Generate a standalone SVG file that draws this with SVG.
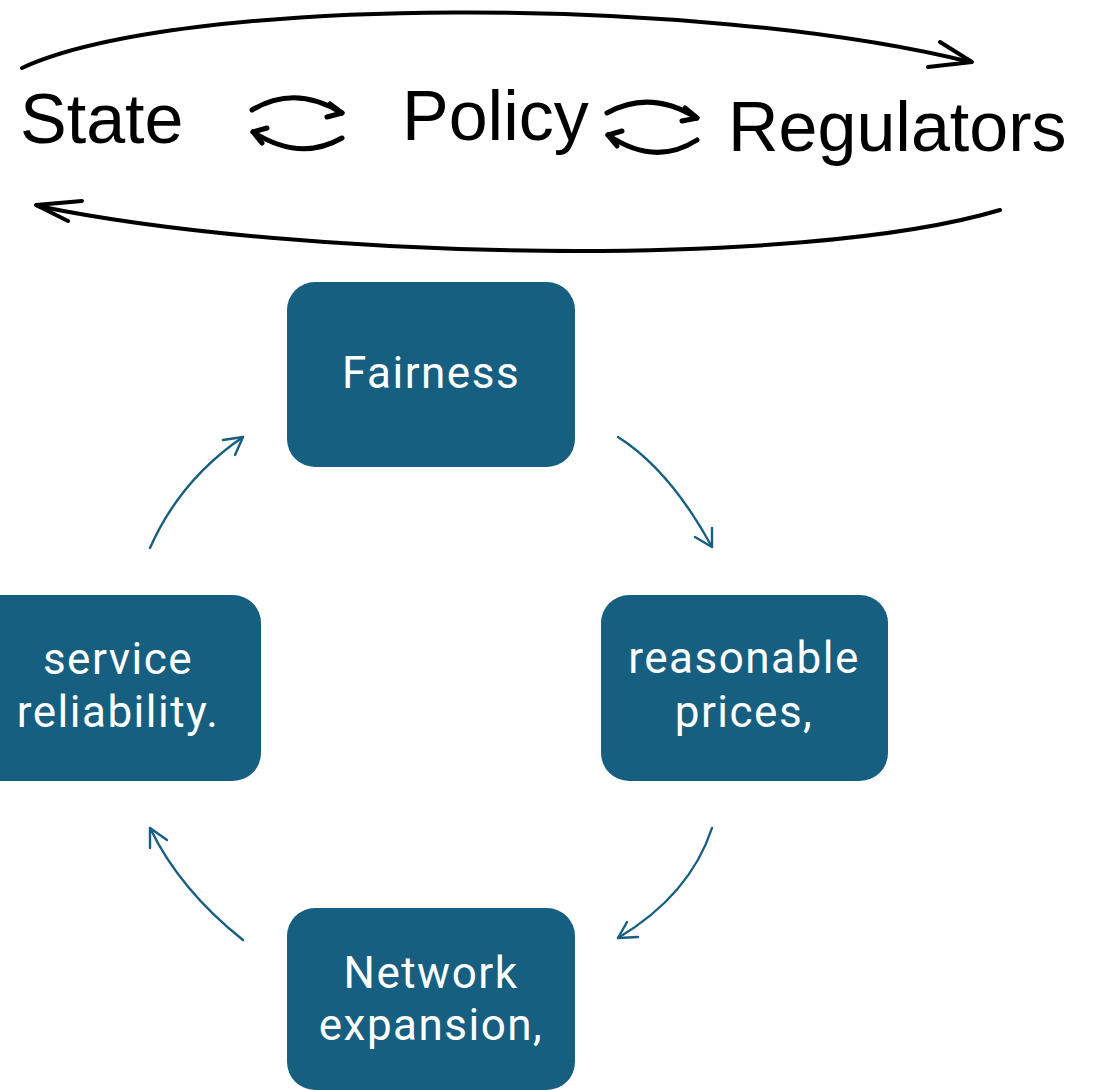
<svg xmlns="http://www.w3.org/2000/svg" width="1096" height="1090" viewBox="0 0 1096 1090">
<style>
.box{fill:#175f80;}
.bt{font-family:Roboto,"Noto Sans",sans-serif;font-size:44px;letter-spacing:1.5px;fill:#ffffff;text-anchor:middle;}
.tt{font-family:"Liberation Sans","Arial",sans-serif;font-size:70px;fill:#000000;}
.ink{fill:none;stroke:#000;stroke-width:4;stroke-linecap:round;stroke-linejoin:round;}
.icon{fill:none;stroke:#000;stroke-width:5;stroke-linecap:round;stroke-linejoin:round;}
.blue{fill:none;stroke:#175f80;stroke-width:2.4;stroke-linecap:round;stroke-linejoin:round;}
</style>
<rect width="1096" height="1090" fill="#ffffff"/>
<g id="title">
<text class="tt" x="20" y="143">State</text>
<text class="tt" x="402" y="140">Policy</text>
<text class="tt" x="728" y="151">Regulators</text>
</g>
<g id="top-connectors">
<path class="ink" d="M22,68 C180,-5 700,-5 970,62"/>
<path class="ink" d="M940,42 L972,62 L928,67"/>
<path class="ink" d="M1000,210 C800,270 300,260 38,206"/>
<path class="ink" d="M82,201 L36,205 L68,221"/>
<path class="icon" d="M252,110 Q295,84 342,113"/>
<path class="icon" d="M330,104 L342,113 L327,117"/>
<path class="icon" d="M342,138 Q300,162 253,132"/>
<path class="icon" d="M267,128 L253,132 L262,143"/>
<path class="icon" d="M607,113 Q650,89 697,118"/>
<path class="icon" d="M685,108 L697,118 L682,121"/>
<path class="icon" d="M697,140 Q655,167 608,135"/>
<path class="icon" d="M622,131 L608,135 L617,146"/>
</g>
<g id="node-fairness">
<rect class="box" x="287" y="282" width="288" height="185" rx="28"/>
<text class="bt" x="431" y="388">Fairness</text>
</g>
<g id="node-prices">
<rect class="box" x="601" y="595" width="287" height="186" rx="28"/>
<text class="bt" x="744" y="673">reasonable</text>
<text class="bt" x="744" y="727">prices,</text>
</g>
<g id="node-network">
<rect class="box" x="287" y="908" width="288" height="182" rx="28"/>
<text class="bt" x="431" y="988">Network</text>
<text class="bt" x="431" y="1040">expansion,</text>
</g>
<g id="node-reliability">
<rect class="box" x="-27" y="595" width="288" height="186" rx="28"/>
<text class="bt" x="118" y="674">service</text>
<text class="bt" x="118" y="727">reliability.</text>
</g>
<g id="connectors">
<path class="blue" d="M150,548 Q180,480 243,437"/>
<path class="blue" d="M223,440 L243,437 L235,455"/>
<path class="blue" d="M618,437 Q670,470 712,547"/>
<path class="blue" d="M695,537 L712,547 L712,528"/>
<path class="blue" d="M712,828 Q690,895 618,938"/>
<path class="blue" d="M627,922 L618,938 L638,937"/>
<path class="blue" d="M243,940 Q180,890 150,828"/>
<path class="blue" d="M150,848 L150,828 L167,840"/>
</g>
</svg>
